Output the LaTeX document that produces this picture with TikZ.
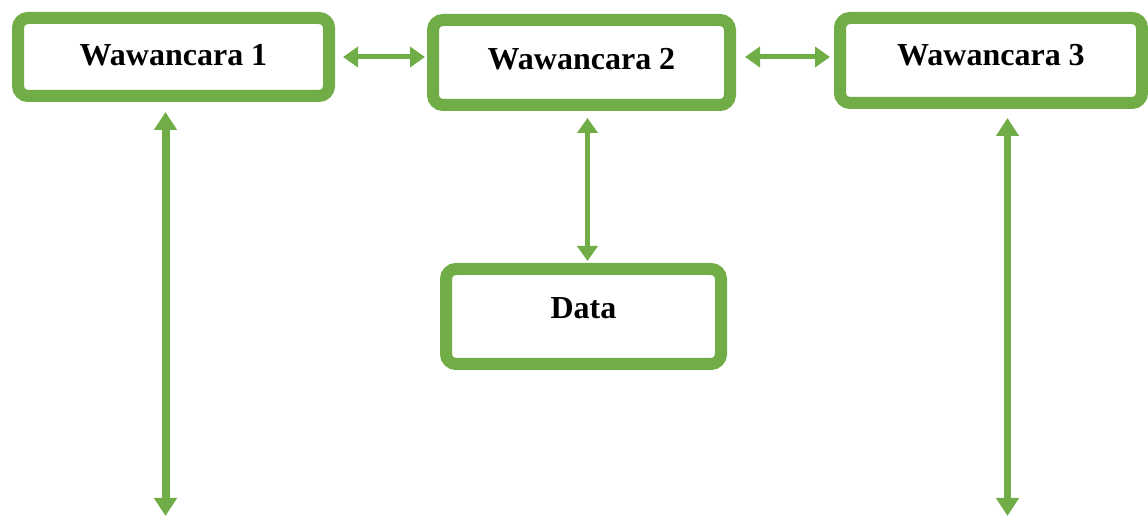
\documentclass[tikz,border=0pt]{standalone}
\usepackage{fontspec}
\setmainfont{Liberation Serif}
\usepackage{tikz}
\usetikzlibrary{arrows.meta, calc, positioning}
\definecolor{boxgreen}{HTML}{70AD47}
\tikzstyle{box} = [rectangle, rounded corners=5pt, line width=6pt, draw=boxgreen, fill=white, text centered, font=\fontsize{16}{19}\selectfont\bfseries, text height=11pt]
\tikzstyle{arrow} = [draw=boxgreen, line width=2.5pt, {Triangle[length=7.5pt,width=10pt]}-{Triangle[length=7.5pt,width=10pt]}]
\tikzstyle{longarrow} = [draw=boxgreen, line width=3.5pt, {Triangle[length=9pt,width=11pt]}-{Triangle[length=9pt,width=11pt]}]

\begin{document}
\begin{tikzpicture}[x=0.5pt, y=-0.5pt]
	\useasboundingbox (0,0) rectangle (1148,517);
	\node (Wawancara1) [box, minimum width=155.5pt, minimum height=39pt, text depth=2.4pt] at (173.5,57) {Wawancara 1};
	\node (Wawancara2) [box, minimum width=148.5pt, minimum height=42.5pt, text depth=3.9pt] at (581.5,62.5) {Wawancara 2};
	\node (Wawancara3) [box, minimum width=151pt, minimum height=42.5pt, text depth=5.9pt] at (991,60.5) {Wawancara 3};
	\node (Data) [box, minimum width=137.5pt, minimum height=47.5pt, text depth=9.4pt] at (583.5,316.5) {Data};
	\coordinate (Wawancara1End) at (165.5,516);
	\coordinate (Wawancara3End) at (1007.5,516);
	
	\draw [arrow, shorten <=4pt, shorten >=1pt] (Wawancara1.east) -- (Wawancara1.east -| Wawancara2.west);
	\draw [arrow, shorten <=4.5pt, shorten >=2pt] (Wawancara2.east |- Wawancara1.east) -- (Wawancara3.west |- Wawancara1.east);
	\draw [arrow, shorten <=3.5pt, shorten >=1pt] ([xshift=3pt]Wawancara2.south) -- ([xshift=3pt]Wawancara2.south |- Data.north);
	\draw [longarrow, line width=4pt, shorten <=5pt] ([xshift=-4pt]Wawancara1.south) -- (Wawancara1End);
	\draw [longarrow, shorten <=4.5pt] ([xshift=8.25pt]Wawancara3.south) -- (Wawancara3End);
\end{tikzpicture}
\end{document}
